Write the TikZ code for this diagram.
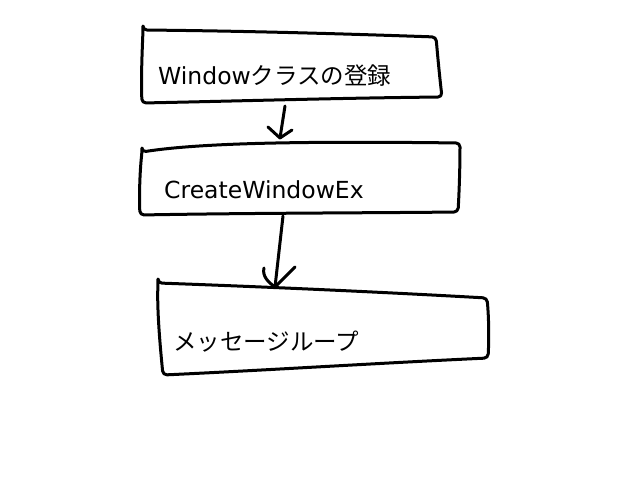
\documentclass[tikz,border=0pt]{standalone}
\usepackage{fontspec}
\setmainfont{Noto Sans CJK JP}
\newfontfamily\latf{DejaVu Sans}
\begin{document}
\begin{tikzpicture}[x=1pt,y=-1pt,
  sketch/.style={line width=3pt,line cap=round,line join=round,black},
  lbl/.style={anchor=base west,inner sep=0pt,font=\fontsize{23.5}{26}\selectfont}]
\useasboundingbox (0,0) rectangle (640,480);
% box 1
\draw[sketch,rounded corners=4pt] (143,30) .. controls (250,31) and (350,34) .. (436,37)
  .. controls (438,60) and (440,80) .. (442,97)
  .. controls (340,98) and (240,101) .. (142,103)
  .. controls (141,80) and (142,55) .. cycle;
% box 2
\draw[sketch,rounded corners=4pt] (142,152) .. controls (200,143) and (300,141) .. (460,143)
  .. controls (460,170) and (459,195) .. (458,212)
  .. controls (360,213) and (250,213) .. (140,215)
  .. controls (139,195) and (140,170) .. cycle;
% box 3
\draw[sketch,rounded corners=4pt] (158,283) .. controls (270,287) and (380,292) .. (487,298)
  .. controls (489,320) and (489,340) .. (488,358)
  .. controls (380,363) and (270,370) .. (163,375)
  .. controls (160,345) and (157,310) .. cycle;
% texts
\node[lbl] (t1) at (158,84) {{\latf Window}クラスの登録};
\node[lbl] (t2) at (164,198) {\latf CreateWindowEx};
\node[lbl] (t3) at (173,350) {メッセージループ};
% arrows
\coordinate (a1s) at (285,106);
\coordinate (a1e) at (280,138);
\coordinate (a2s) at (283,216);
\coordinate (a2e) at (275,287);
\draw[sketch] (a1s) -- (a1e);
\draw[sketch] (268,127) -- (a1e) -- (292,130);
\draw[sketch] (a2s) -- (a2e);
\draw[sketch] (264,268) .. controls (262,276) and (268,282) .. (a2e) -- (295,267);
\end{tikzpicture}
\end{document}
